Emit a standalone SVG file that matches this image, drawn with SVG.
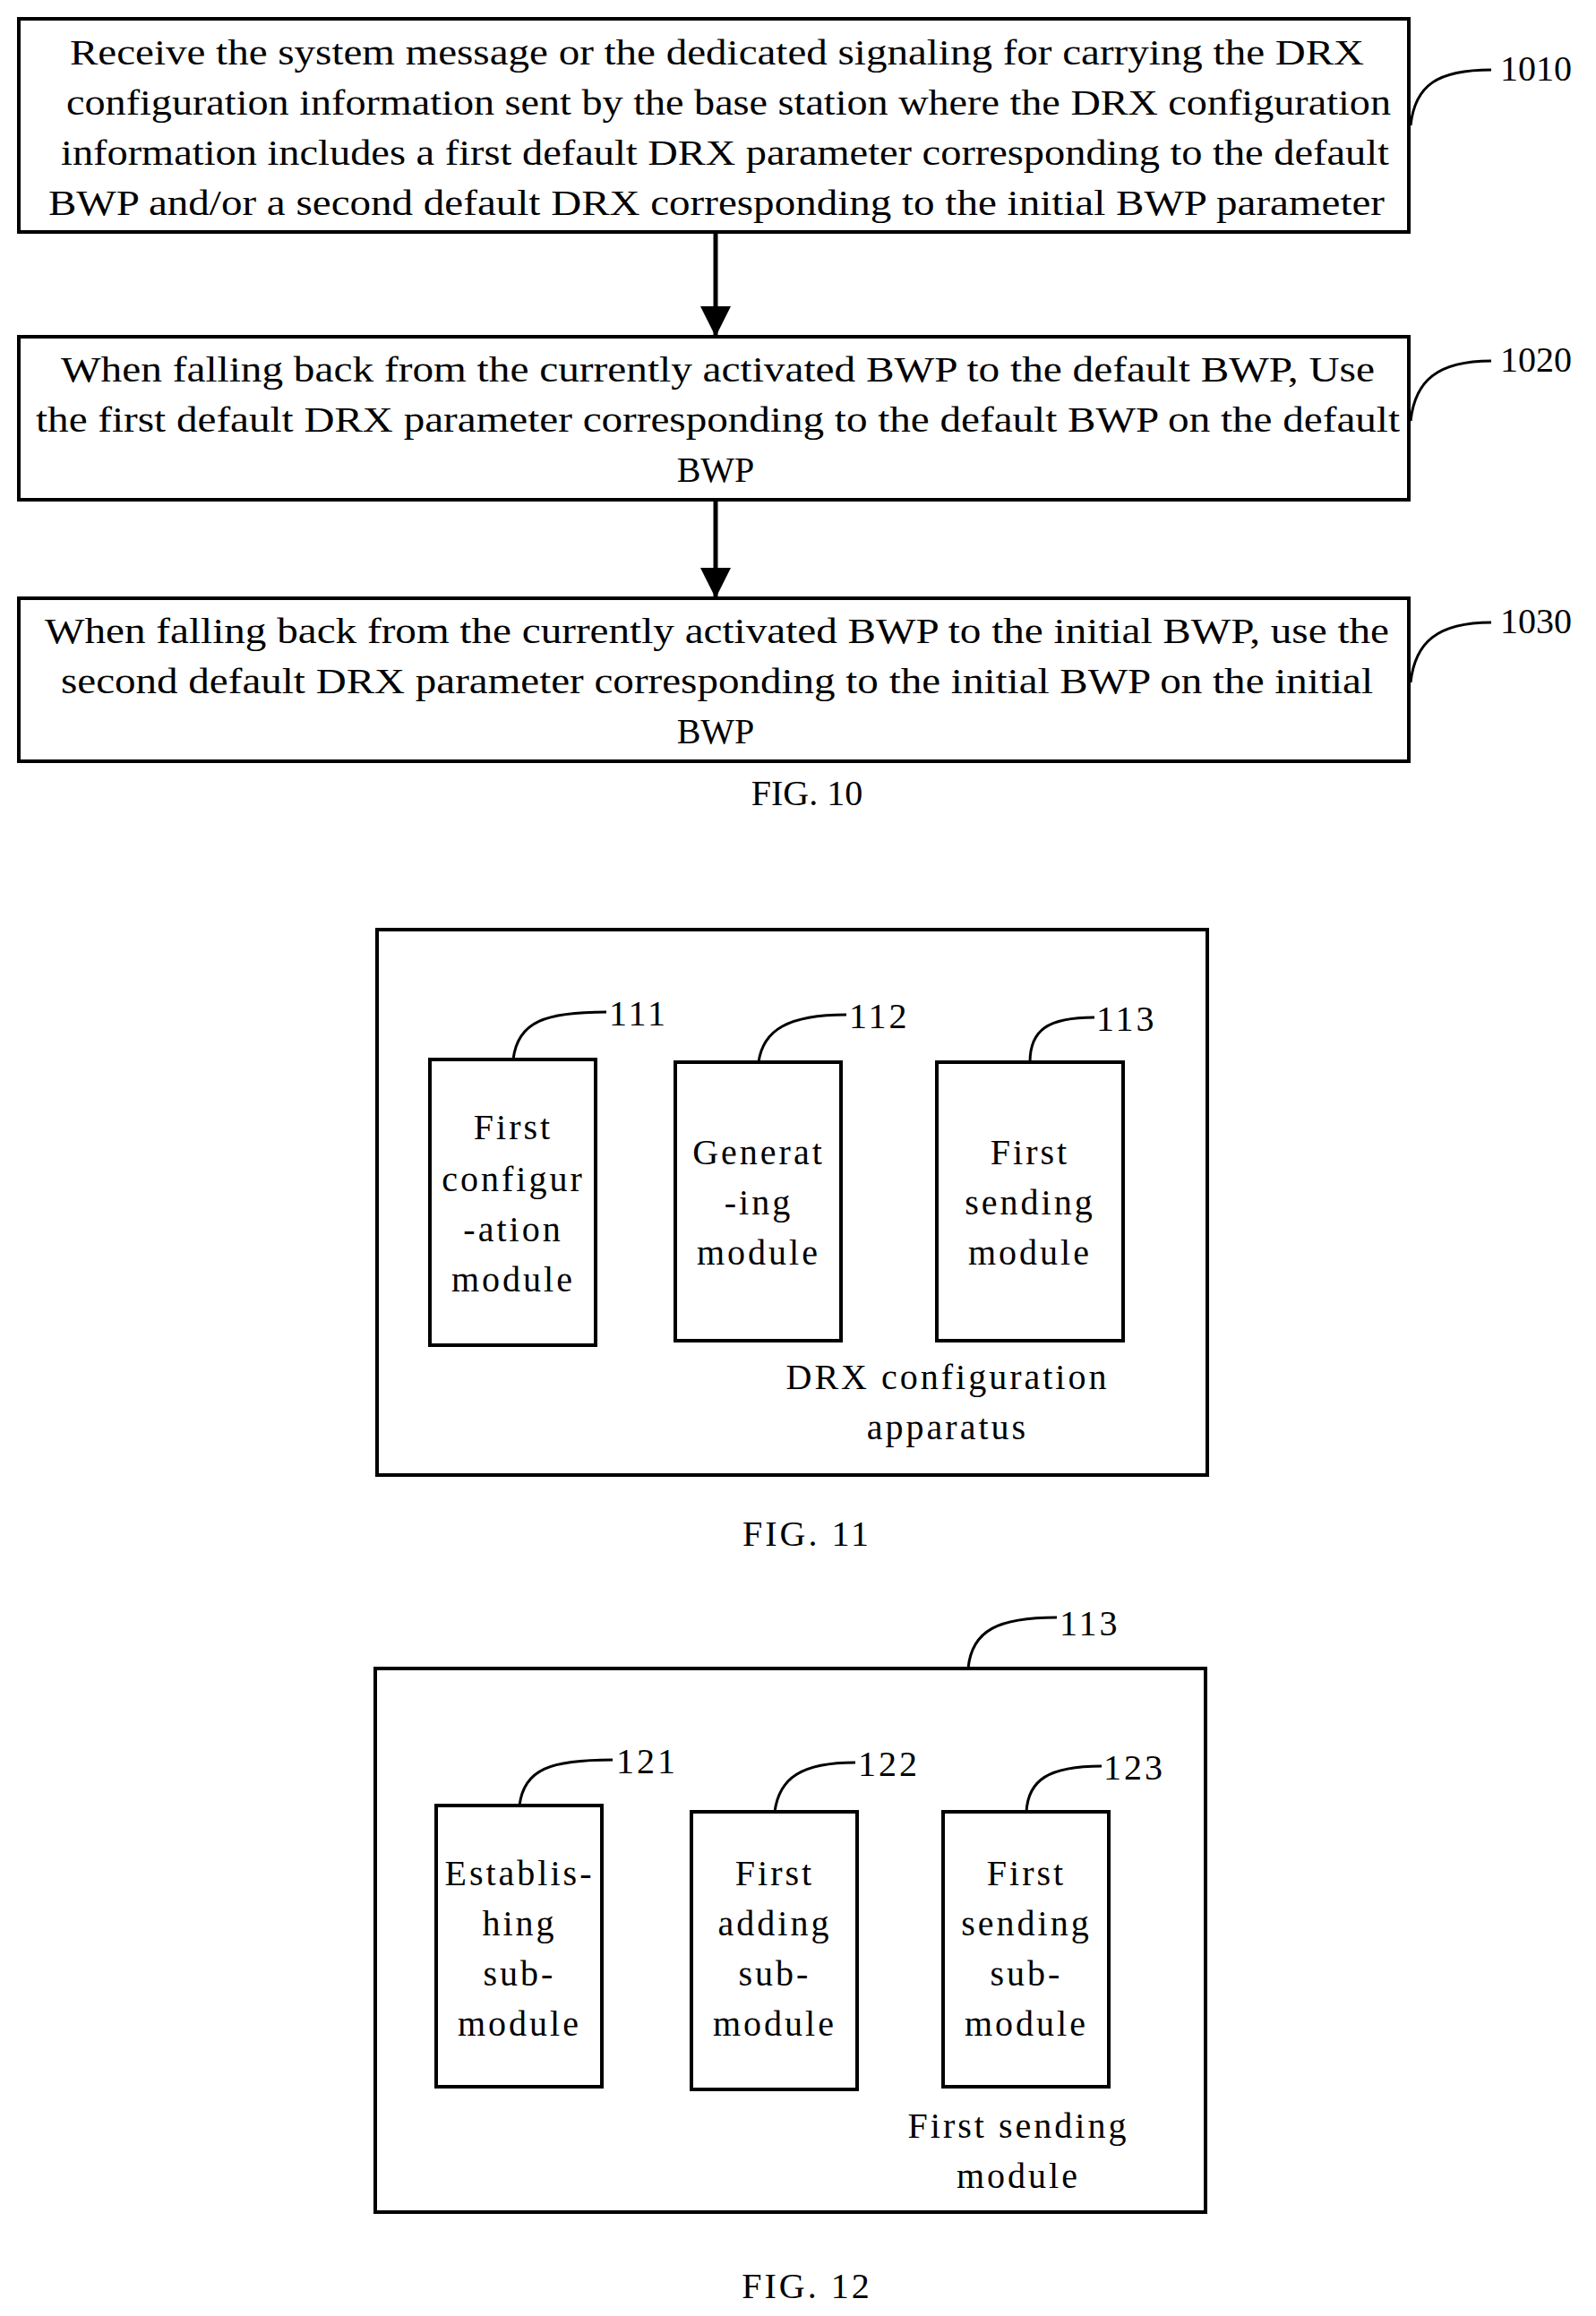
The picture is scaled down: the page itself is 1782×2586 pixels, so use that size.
<svg xmlns="http://www.w3.org/2000/svg" width="1782" height="2586" viewBox="0 0 1782 2586">
<defs>
<marker id="ah" markerWidth="10" markerHeight="10" refX="9" refY="5" orient="auto" markerUnits="userSpaceOnUse" viewBox="0 0 10 10"><path d="M0,0 L10,5 L0,10 z" fill="#000"/></marker>
<style>
rect{fill:#fff;stroke:#000;stroke-width:4}
text{font-family:"Liberation Serif","Times New Roman",serif;font-size:40px;fill:#000}
.m{text-anchor:middle}
.w{letter-spacing:3px}
.c{fill:none;stroke:#000;stroke-width:4}
.l{fill:none;stroke:#000;stroke-width:3}
</style>
</defs>
<marker id="ah2" markerWidth="34" markerHeight="40" refX="34" refY="17" orient="auto" markerUnits="userSpaceOnUse"><path d="M0,0 L34,17 L0,34 z" fill="#000"/></marker>
<g id="n1010">
<rect x="21" y="21" width="1552" height="238"/>
<text x="78" y="72" textLength="1445" lengthAdjust="spacingAndGlyphs">Receive the system message or the dedicated signaling for carrying the DRX</text>
<text x="74" y="128" textLength="1479" lengthAdjust="spacingAndGlyphs">configuration information sent by the base station where the DRX configuration</text>
<text x="68" y="184" textLength="1483" lengthAdjust="spacingAndGlyphs">information includes a first default DRX parameter corresponding to the default</text>
<text x="54" y="240" textLength="1492" lengthAdjust="spacingAndGlyphs">BWP and/or a second default DRX corresponding to the initial BWP parameter</text>
<path class="l" d="M1575,140 C1580,95 1605,78 1665,78"/><text x="1675" y="90">1010</text>
</g>
<g id="n1020">
<rect x="21" y="376" width="1552" height="182"/>
<text x="68" y="426" textLength="1467" lengthAdjust="spacingAndGlyphs">When falling back from the currently activated BWP to the default BWP, Use</text>
<text x="40" y="482" textLength="1523" lengthAdjust="spacingAndGlyphs">the first default DRX parameter corresponding to the default BWP on the default</text>
<text class="m" x="799" y="538">BWP</text>
<path class="l" d="M1575,470 C1580,425 1605,403 1665,403"/><text x="1675" y="415">1020</text>
</g>
<g id="n1030">
<rect x="21" y="668" width="1552" height="182"/>
<text x="50" y="718" textLength="1501" lengthAdjust="spacingAndGlyphs">When falling back from the currently activated BWP to the initial BWP, use the</text>
<text x="68" y="774" textLength="1465" lengthAdjust="spacingAndGlyphs">second default DRX parameter corresponding to the initial BWP on the initial</text>
<text class="m" x="799" y="830">BWP</text>
<path class="l" d="M1575,762 C1580,717 1605,695 1665,695"/><text x="1675" y="707">1030</text>
</g>
<text class="m" x="901" y="899">FIG. 10</text>
<g id="connectors">
<line x1="799" y1="259" x2="799" y2="376" stroke="#000" stroke-width="5" marker-end="url(#ah2)"/>
<line x1="799" y1="558" x2="799" y2="668" stroke="#000" stroke-width="5" marker-end="url(#ah2)"/>
<line x1="665" y1="1341" x2="754" y2="1341" stroke="#000" stroke-width="4"/>
<line x1="939" y1="1341" x2="1046" y2="1341" stroke="#000" stroke-width="4"/>
<line x1="672" y1="2171" x2="772" y2="2178" stroke="#000" stroke-width="4"/>
<line x1="957" y1="2178" x2="1053" y2="2178" stroke="#000" stroke-width="4"/>
</g>
<g id="fig11">
<rect x="421" y="1038" width="927" height="609"/>
<text class="m w" x="1058" y="1551">DRX configuration</text>
<text class="m w" x="1058" y="1607">apparatus</text>
</g>
<g id="n111">
<rect x="480" y="1183" width="185" height="319"/>
<text class="m w" x="573" y="1272">First</text>
<text class="m w" x="573" y="1330">configur</text>
<text class="m w" x="573" y="1386">-ation</text>
<text class="m w" x="573" y="1442">module</text>
<path class="l" d="M573,1183 C578,1140 610,1130 677,1130"/><text class="w" x="680" y="1145">111</text>
</g>
<g id="n112">
<rect x="754" y="1186" width="185" height="311"/>
<text class="m w" x="847" y="1300">Generat</text>
<text class="m w" x="847" y="1356">-ing</text>
<text class="m w" x="847" y="1412">module</text>
<path class="l" d="M847,1186 C852,1150 880,1133 945,1133"/><text class="w" x="948" y="1148">112</text>
</g>
<g id="n113">
<rect x="1046" y="1186" width="208" height="311"/>
<text class="m w" x="1150" y="1300">First</text>
<text class="m w" x="1150" y="1356">sending</text>
<text class="m w" x="1150" y="1412">module</text>
<path class="l" d="M1150,1186 C1150,1150 1170,1136 1222,1136"/><text class="w" x="1224" y="1151">113</text>
</g>
<text class="m w" x="901" y="1726">FIG. 11</text>
<g id="fig12">
<rect x="419" y="1863" width="927" height="607"/>
<path class="l" d="M1081,1863 C1085,1820 1115,1806 1180,1806"/><text class="w" x="1183" y="1826">113</text>
<text class="m w" x="1137" y="2387">First sending</text>
<text class="m w" x="1137" y="2443">module</text>
</g>
<g id="n121">
<rect x="487" y="2016" width="185" height="314"/>
<text class="m w" x="580" y="2105">Establis-</text>
<text class="m w" x="580" y="2161">hing</text>
<text class="m w" x="580" y="2217">sub-</text>
<text class="m w" x="580" y="2273">module</text>
<path class="l" d="M580,2016 C585,1975 615,1965 684,1965"/><text class="w" x="688" y="1980">121</text>
</g>
<g id="n122">
<rect x="772" y="2023" width="185" height="310"/>
<text class="m w" x="865" y="2105">First</text>
<text class="m w" x="865" y="2161">adding</text>
<text class="m w" x="865" y="2217">sub-</text>
<text class="m w" x="865" y="2273">module</text>
<path class="l" d="M865,2023 C870,1985 895,1968 955,1968"/><text class="w" x="958" y="1983">122</text>
</g>
<g id="n123">
<rect x="1053" y="2023" width="185" height="307"/>
<text class="m w" x="1146" y="2105">First</text>
<text class="m w" x="1146" y="2161">sending</text>
<text class="m w" x="1146" y="2217">sub-</text>
<text class="m w" x="1146" y="2273">module</text>
<path class="l" d="M1146,2023 C1148,1988 1170,1972 1230,1972"/><text class="w" x="1232" y="1987">123</text>
</g>
<text class="m w" x="901" y="2566">FIG. 12</text>
</svg>
